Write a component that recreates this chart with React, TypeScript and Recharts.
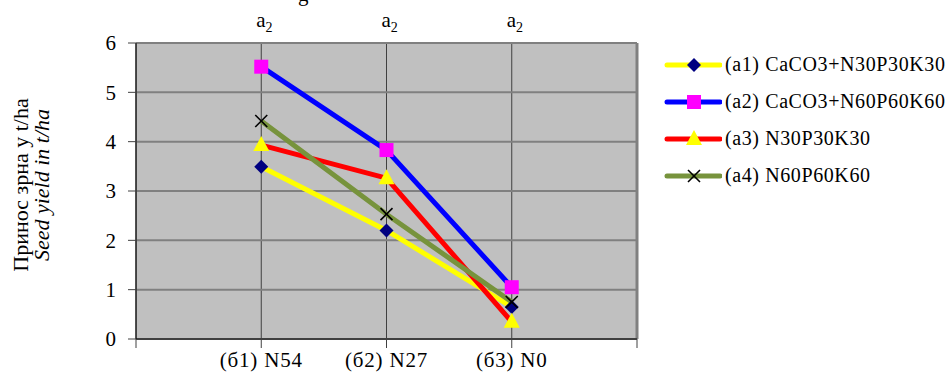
import React from 'react';
import {
  LineChart,
  Line,
  XAxis,
  YAxis,
  CartesianGrid,
  ReferenceLine,
  Legend
} from 'recharts';

const categories = ['(б1) N54', '(б2) N27', '(б3) N0'];
const topLabels = ['a', 'a', 'a'];
const a1 = [3.49, 2.2, 0.65];
const a2 = [5.52, 3.83, 1.05];
const a3 = [3.93, 3.26, 0.35];
const a4 = [4.42, 2.53, 0.75];
const yTicks = [0, 1, 2, 3, 4, 5, 6];
const xTicks = [0, 1, 2, 3, 4];

const seriesInfo = [
  { key: 'a1', name: '(a1) CaCO3+N30P30K30', color: '#FFFF00', marker: 'diamond' },
  { key: 'a2', name: '(a2) CaCO3+N60P60K60', color: '#0000FF', marker: 'square' },
  { key: 'a3', name: '(a3) N30P30K30', color: '#FF0000', marker: 'triangle' },
  { key: 'a4', name: '(a4) N60P60K60', color: '#77933C', marker: 'cross' }
];

const data = categories.map((c, i) => ({
  x: i + 1,
  a1: a1[i],
  a2: a2[i],
  a3: a3[i],
  a4: a4[i]
}));

const FONT = 'Liberation Serif';

const drawMarker = (type: string, cx: number, cy: number, key?: string) => {
  if (type === 'diamond') {
    return <path key={key} d={`M${cx},${cy - 7}L${cx + 7},${cy}L${cx},${cy + 7}L${cx - 7},${cy}Z`} fill="#000080" />;
  }
  if (type === 'square') {
    return <rect key={key} x={cx - 7} y={cy - 7} width={14} height={14} fill="#FF00FF" />;
  }
  if (type === 'triangle') {
    return <path key={key} d={`M${cx},${cy - 9}L${cx + 8},${cy + 6}L${cx - 8},${cy + 6}Z`} fill="#FFFF00" />;
  }
  return (
    <g key={key}>
      <line x1={cx - 6} y1={cy - 6} x2={cx + 6} y2={cy + 6} stroke="#000" strokeWidth={1.6} />
      <line x1={cx - 6} y1={cy + 6} x2={cx + 6} y2={cy - 6} stroke="#000" strokeWidth={1.6} />
    </g>
  );
};

const renderLegend = () => (
  <div style={{ fontFamily: FONT, fontSize: 20, letterSpacing: 0.6, color: '#000' }}>
    {seriesInfo.map(s => (
      <div key={s.key} style={{ display: 'flex', alignItems: 'center', height: 37 }}>
        <svg width={58} height={20} style={{ marginRight: 3 }}>
          <line x1={3} y1={10} x2={56} y2={10} stroke={s.color} strokeWidth={5} strokeLinecap="round" />
          {drawMarker(s.marker, 30, 10)}
        </svg>
        <span>{s.name}</span>
      </div>
    ))}
  </div>
);

const TopTick = (props: any) => {
  const { x, payload } = props;
  const idx = payload.value - 1;
  if (idx < 0 || idx >= topLabels.length) return null;
  return (
    <text x={x - 5} y={27} textAnchor="start" fontFamily={FONT} fontSize={21} fill="#000">
      {topLabels[idx]}
      <tspan fontSize={14} dy={5}>2</tspan>
    </text>
  );
};

const YLabel = (props: any) => {
  const { viewBox } = props;
  const cy = viewBox.y + viewBox.height / 2 - 6;
  return (
    <g>
      <text x={0} y={0} transform={`translate(28, ${cy}) rotate(-90)`} textAnchor="middle"
        fontFamily={FONT} fontSize={22} fill="#000">Принос зрна у t/ha</text>
      <text x={0} y={0} transform={`translate(49, ${cy}) rotate(-90)`} textAnchor="middle"
        fontFamily={FONT} fontSize={22} fontStyle="italic" fill="#000">Seed yield in t/ha</text>
    </g>
  );
};

export default function App() {
  return (
    <div style={{ position: 'absolute', left: 0, top: 0, width: 951, height: 378, background: '#fff', fontFamily: FONT }}>
      <LineChart width={951} height={378} data={data} margin={{ top: 0, right: 314, bottom: 0, left: 0 }}>
        <text x={298} y={1} fontFamily={FONT} fontSize={21} fill="#000">g</text>
        <CartesianGrid horizontal={false} vertical fill="#C0C0C0" stroke="#404040" strokeWidth={1} />
        <CartesianGrid horizontal vertical={false} stroke="#808080" strokeWidth={2} />
        <XAxis
          dataKey="x"
          type="number"
          domain={[0, 4]}
          ticks={xTicks}
          height={39}
          tickSize={9}
          tickMargin={4}
          stroke="#000"
          tickLine={{ stroke: '#404040' }}
          axisLine={{ stroke: '#000' }}
          tickFormatter={(v: number) => categories[v - 1] ?? ''}
          tick={{ fill: '#000', fontSize: 21, fontFamily: FONT, letterSpacing: 0.8 }}
          interval={0}
        />
        <XAxis
          xAxisId="top"
          dataKey="x"
          type="number"
          orientation="top"
          domain={[0, 4]}
          ticks={xTicks}
          height={43}
          axisLine={false}
          tickLine={false}
          tick={<TopTick />}
          interval={0}
        />
        <YAxis
          type="number"
          domain={[0, 6]}
          ticks={yTicks}
          width={136}
          tickSize={8}
          tickMargin={12}
          interval={0}
          axisLine={{ stroke: '#000' }}
          tickLine={{ stroke: '#404040' }}
          tick={{ fill: '#000', fontSize: 21, fontFamily: FONT }}
          label={{ content: <YLabel /> }}
        />
        <ReferenceLine x={4} stroke="#808080" strokeWidth={3} />
        <Legend
          layout="horizontal"
          align="center"
          verticalAlign="middle"
          wrapperStyle={{ left: 664, top: 46, width: 287 }}
          content={renderLegend}
        />
        {seriesInfo.map(s => (
          <Line
            key={s.key}
            type="linear"
            dataKey={s.key}
            name={s.name}
            stroke={s.color}
            strokeWidth={5}
            isAnimationActive={false}
            dot={(p: any) => drawMarker(s.marker, p.cx, p.cy, `${s.key}-${p.index}`)}
            activeDot={false}
          />
        ))}
      </LineChart>
    </div>
  );
}
